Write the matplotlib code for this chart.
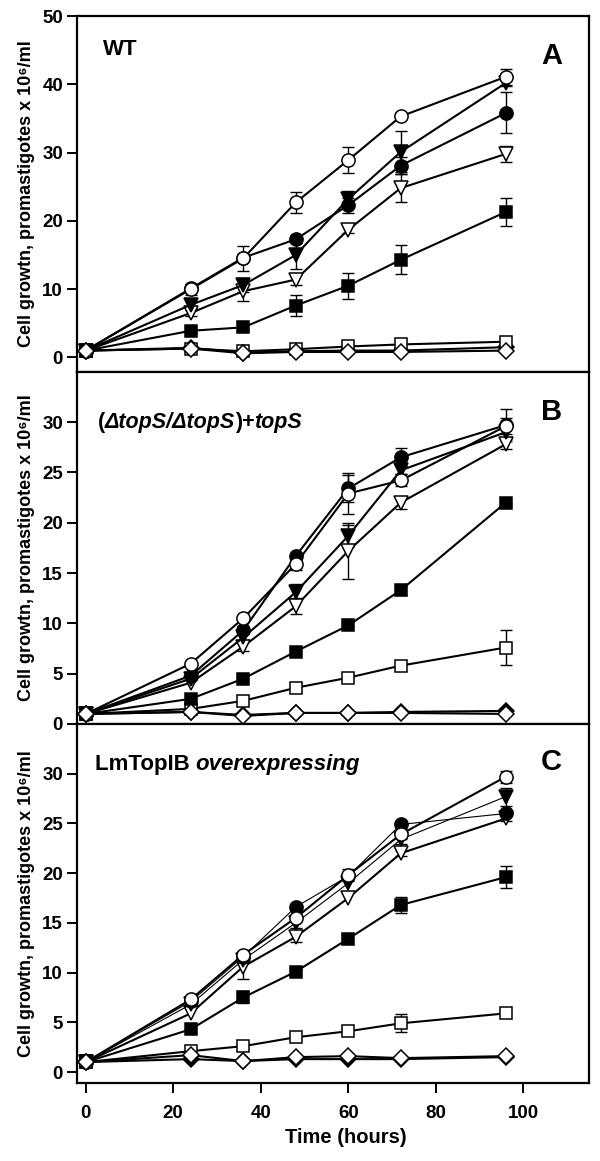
import matplotlib
matplotlib.use('Agg')
import matplotlib.pyplot as plt

plt.rcParams['font.family'] = ['Liberation Sans', 'DejaVu Sans']
plt.rcParams['font.weight'] = 'bold'
plt.rcParams['axes.labelweight'] = 'bold'

hours = [0, 24, 36, 48, 60, 72, 96]

# panel A - WT
a_open_circle = [1, 10.0, 14.5, 22.7, 28.9, 35.3, 41.1]
a_open_circle_err = [0, 0.8, 1.8, 1.5, 1.9, 0.3, 1.2]
a_filled_circle = [1, 10.1, 14.6, 17.3, 22.3, 28.1, 35.8]
a_filled_circle_err = [0, 0.5, 0.5, 0.6, 1.1, 1.3, 3.0]
a_filled_tri = [1, 7.7, 10.6, 15.0, 23.2, 30.1, 40.2]
a_filled_tri_err = [0, 0.5, 1.0, 2.0, 1.2, 3.0, 0.5]
a_open_tri = [1, 6.5, 9.7, 11.4, 18.7, 24.8, 29.8]
a_open_tri_err = [0, 0.5, 1.5, 0.8, 0.5, 2.0, 1.2]
a_filled_sq = [1, 3.9, 4.4, 7.6, 10.5, 14.3, 21.3]
a_filled_sq_err = [0, 0.3, 0.4, 1.5, 1.9, 2.1, 2.0]
a_open_sq = [1, 1.3, 0.9, 1.2, 1.6, 1.9, 2.3]
a_open_sq_err = [0, 0, 0, 0, 0, 0, 0]
a_filled_dia = [1, 1.4, 0.7, 0.9, 1.0, 1.0, 1.5]
a_filled_dia_err = [0, 0, 0, 0, 0, 0, 0]
a_open_dia = [1, 1.3, 0.6, 0.8, 0.8, 0.8, 1.0]
a_open_dia_err = [0, 0, 0, 0, 0, 0, 0]

# panel B - (dtopS/dtopS)+topS
b_open_circle = [1, 6.0, 10.5, 15.9, 22.9, 24.2, 29.6]
b_open_circle_err = [0, 0, 0, 0.6, 2.0, 0.6, 0.8]
b_filled_circle = [1, 4.8, 9.3, 16.7, 23.4, 26.5, 29.7]
b_filled_circle_err = [0, 0, 0.4, 0.3, 1.3, 0.9, 1.6]
b_filled_tri = [1, 4.5, 8.6, 13.1, 18.7, 25.2, 29.0]
b_filled_tri_err = [0, 0, 0.3, 0.8, 1.1, 0.4, 0.5]
b_open_tri = [1, 4.1, 7.7, 11.7, 17.2, 22.0, 27.8]
b_open_tri_err = [0, 0, 0.4, 0.8, 2.8, 0.6, 0.5]
b_filled_sq = [1, 2.5, 4.5, 7.2, 9.8, 13.3, 22.0]
b_filled_sq_err = [0, 0, 0, 0, 0, 0.5, 0]
b_open_sq = [1, 1.5, 2.3, 3.6, 4.6, 5.8, 7.6]
b_open_sq_err = [0, 0, 0, 0.4, 0, 0, 1.7]
b_filled_dia = [1, 1.2, 0.9, 1.1, 1.1, 1.2, 1.3]
b_filled_dia_err = [0, 0, 0, 0, 0, 0, 0]
b_open_dia = [1, 1.2, 0.8, 1.1, 1.1, 1.1, 1.0]
b_open_dia_err = [0, 0, 0, 0, 0, 0, 0]

# panel C - LmTopIB overexpressing
c_open_circle = [1, 7.3, 11.8, 15.5, 19.8, 23.9, 29.7]
c_open_circle_err = [0, 0, 0.4, 0.3, 0.6, 0.5, 0.6]
c_filled_circle = [1, 7.1, 11.6, 16.6, 19.7, 24.9, 26.0]
c_filled_circle_err = [0, 0, 0, 0, 0, 0, 0]
c_filled_tri = [1, 6.8, 11.3, 15.0, 19.0, 23.4, 27.7]
c_filled_tri_err = [0, 0, 0, 0.5, 0, 0.5, 0.9]
c_open_tri = [1, 5.9, 10.6, 13.6, 17.5, 22.0, 25.5]
c_open_tri_err = [0, 0, 1.2, 0.5, 0, 0.3, 0.3]
c_filled_sq = [1, 4.3, 7.5, 10.1, 13.4, 16.8, 19.6]
c_filled_sq_err = [0, 0, 0.6, 0, 0, 0.8, 1.1]
c_open_sq = [1, 2.1, 2.6, 3.5, 4.1, 4.9, 5.9]
c_open_sq_err = [0, 0, 0, 0, 0, 0.9, 0]
c_filled_dia = [1, 1.3, 1.1, 1.3, 1.3, 1.3, 1.5]
c_filled_dia_err = [0, 0, 0, 0, 0, 0, 0]
c_open_dia = [1, 1.7, 1.1, 1.5, 1.6, 1.4, 1.6]
c_open_dia_err = [0, 0, 0, 0, 0, 0, 0]

# marker, fill, size  (drawing order, last on top)
styles = [('D', 'black', 8.5), ('s', 'white', 9), ('s', 'black', 9), ('v', 'white', 10),
          ('v', 'black', 10), ('o', 'black', 9.5), ('o', 'white', 9.5), ('D', 'white', 8.5)]

panels = [
    ([a_filled_dia, a_open_sq, a_filled_sq, a_open_tri, a_filled_tri, a_filled_circle, a_open_circle, a_open_dia],
     [a_filled_dia_err, a_open_sq_err, a_filled_sq_err, a_open_tri_err, a_filled_tri_err, a_filled_circle_err, a_open_circle_err, a_open_dia_err]),
    ([b_filled_dia, b_open_sq, b_filled_sq, b_open_tri, b_filled_tri, b_filled_circle, b_open_circle, b_open_dia],
     [b_filled_dia_err, b_open_sq_err, b_filled_sq_err, b_open_tri_err, b_filled_tri_err, b_filled_circle_err, b_open_circle_err, b_open_dia_err]),
    ([c_filled_dia, c_open_sq, c_filled_sq, c_open_tri, c_filled_tri, c_filled_circle, c_open_circle, c_open_dia],
     [c_filled_dia_err, c_open_sq_err, c_filled_sq_err, c_open_tri_err, c_filled_tri_err, c_filled_circle_err, c_open_circle_err, c_open_dia_err]),
]

fig = plt.figure(figsize=(6, 11.61), dpi=100)
left, width = 0.1283, 0.8533
boxes = [(0.6798, 0.3064), (0.3764, 0.3034), (0.0672, 0.3092)]
ylims = [(-2.1, 50), (0, 35), (-1.1, 35)]
yticks = [range(0, 51, 10), range(0, 31, 5), range(0, 31, 5)]
letters = ['A', 'B', 'C']
letter_y = [0.887, 0.886, 0.894]
ylab = 'Cell growtn, promastigotes x 10\u2076/ml'

axes = []
for i, (bottom, height) in enumerate(boxes):
    ax = fig.add_axes([left, bottom, width, height])
    axes.append(ax)
    series, errs = panels[i]
    for j, (vals, err) in enumerate(zip(series, errs)):
        m, fc, ms = styles[j]
        lw = 1.5
        if i == 2 and j in (4, 5):
            lw = 0.8
        ax.plot(hours, vals, color='black', lw=lw, marker=m, ms=ms, mfc=fc,
                mec='black', mew=1.1, zorder=3 + j * 0.1)
        ex = [h for h, e in zip(hours, err) if e > 0]
        ey = [v for v, e in zip(vals, err) if e > 0]
        ee = [e for e in err if e > 0]
        if ee:
            ax.errorbar(ex, ey, yerr=ee, fmt='none', ecolor='black', elinewidth=1.0,
                        capsize=4.3, capthick=1.0, zorder=2.5)
    ax.set_xlim(-2, 115)
    ax.set_ylim(*ylims[i])
    ax.set_xticks(range(0, 101, 20))
    ax.set_yticks(list(yticks[i]))
    ax.tick_params(direction='out', length=7, width=1.4, labelsize=13.5, pad=3)
    ax.tick_params(axis='x', pad=9)
    for sp in ax.spines.values():
        sp.set_linewidth(1.6)
    if i < 2:
        ax.tick_params(axis='x', labelbottom=False)
    ax.set_ylabel(ylab, fontsize=13)
    ax.yaxis.set_label_coords(-0.082, 0.5)
    ax.text(0.947, letter_y[i], letters[i], transform=ax.transAxes, ha='right', va='center',
            fontsize=21, fontweight='bold')

axes[2].set_xlabel('Time (hours)', fontsize=14.5)
axes[2].xaxis.set_label_coords(0.525, -0.125)

# panel titles
axes[0].text(0.05, 0.905, 'WT', transform=axes[0].transAxes, ha='left', va='center',
             fontsize=16, fontweight='bold')

fs = 15.5
t = axes[1].text(0.04, 0.855, '(', transform=axes[1].transAxes, ha='left', va='center', fontsize=fs)
t = axes[1].annotate('\u0394topS/\u0394topS', xy=(1, 0), xycoords=t, ha='left', va='bottom',
                     fontsize=fs, style='italic')
t = axes[1].annotate(')+', xy=(1, 0), xycoords=t, ha='left', va='bottom', fontsize=fs)
axes[1].annotate('topS', xy=(1, 0), xycoords=t, ha='left', va='bottom', fontsize=fs, style='italic')

t = axes[2].text(0.035, 0.886, 'LmTopIB ', transform=axes[2].transAxes, ha='left', va='center', fontsize=16)
axes[2].annotate('overexpressing', xy=(1, 0), xycoords=t, ha='left', va='bottom', fontsize=16, style='italic')

fig.savefig('out.png', dpi=100)
